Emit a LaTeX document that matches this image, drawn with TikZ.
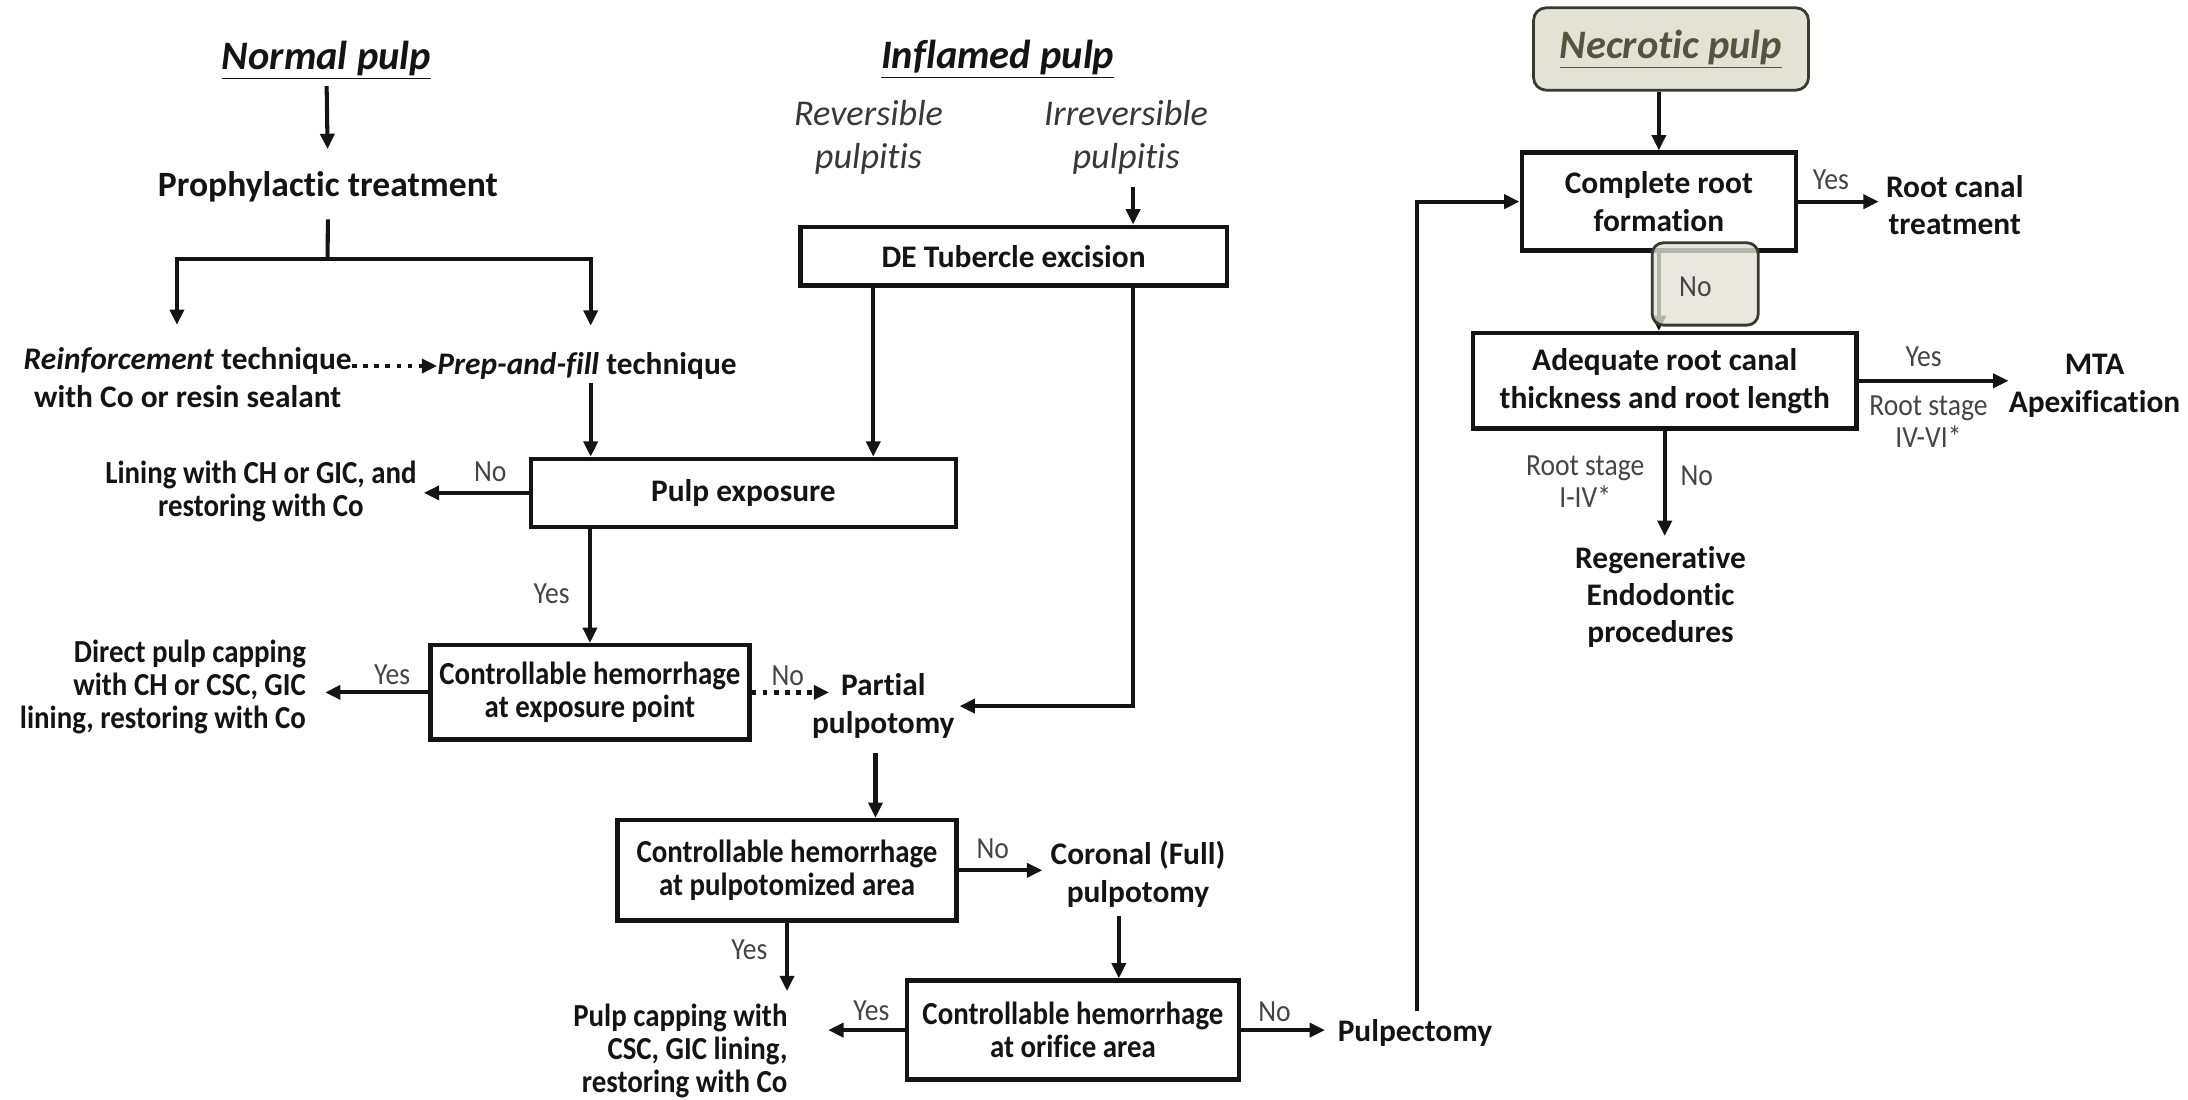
\documentclass[tikz,border=0pt]{standalone}
\usepackage{fontspec}
\setmainfont{Carlito}[Ligatures=NoCommon,RawFeature={-calt;-clig}]
\newfontfamily\condf[FakeStretch=0.9,Ligatures=NoCommon,RawFeature={-calt;-clig}]{Carlito}
\usetikzlibrary{arrows.meta,calc}
\definecolor{ink}{HTML}{141414}
\definecolor{lblgray}{HTML}{454545}
\definecolor{revgray}{HTML}{383838}
\definecolor{beige}{HTML}{E3E2D5}
\definecolor{olive}{HTML}{55553F}
\definecolor{boxedge}{HTML}{3A3A2E}
\newcommand{\myfs}[2]{\fontsize{#1}{#2}\selectfont}
\begin{document}
\begin{tikzpicture}[x=1pt,y=-1pt,
  every node/.style={inner sep=0pt, text=ink},
  fbox/.style 2 args={draw=ink, line width=3.2pt, minimum width=#1, minimum height=#2, align=center},
  bt/.style={font=\myfs{22.5}{27}\bfseries, align=center},
  ct/.style={font=\condf\myfs{23}{23.5}\bfseries, align=center},
  gl/.style={font=\condf\myfs{22}{23}, text=lblgray, align=center},
  head/.style={font=\myfs{29}{34}\bfseries\itshape},
  revt/.style={font=\myfs{26}{30.7}\itshape, text=revgray, align=center},
  arr/.style={draw=ink, line width=2.9pt, -{Triangle[length=11pt,width=10pt]}},
  dotarr/.style={arr, line width=3.4pt, dash pattern=on 3.4pt off 4.6pt}
]
\useasboundingbox (0,0) rectangle (1568,788);

% ---------- column: normal pulp ----------
\node[head] (normal) at (234,43) {\underline{Normal pulp}};
\node[bt, font=\myfs{25.5}{30}\bfseries] (proph) at (235,134) {Prophylactic treatment};
\node[bt] (reinf) at (134.5,270.5) {\textit{Reinforcement} technique\\with Co or resin sealant};
\node[bt] (prep) at (420.7,262.3) {\textit{Prep-and-fill} technique};
\node[ct] (lining) at (187,352) {Lining with CH or GIC, and\\restoring with Co};
\node[ct, align=right, anchor=east] (direct) at (219.4,492.3) {Direct pulp capping\\with CH or CSC, GIC\\lining, restoring with Co};
\node[bt] (partial) at (633,506) {Partial\\pulpotomy};
\node[bt] (coronal) at (815.5,626.4) {Coronal (Full)\\pulpotomy};
\node[ct, align=right, anchor=east] (pcap) at (564.5,753) {Pulp capping with\\CSC, GIC lining,\\restoring with Co};
\node[bt] (pulpectomy) at (1014,740.3) {Pulpectomy};

% ---------- column: inflamed pulp ----------
\node[head] (inflamed) at (715,42.2) {\underline{Inflamed pulp}};
\node[revt] (rev) at (622.4,98.5) {Reversible\\pulpitis};
\node[revt] (irrev) at (807,98.5) {Irreversible\\pulpitis};

% ---------- boxes ----------
\node[fbox={305.6pt}{42.2pt}, bt] (de) at (726.4,183.6) {DE Tubercle excision};
\node[fbox={304.5pt}{48.6pt}, bt] (pe) at (532.75,353.2) {Pulp exposure};
\node[fbox={228.5pt}{67.6pt}, ct] (ch1) at (422.75,496.2) {Controllable hemorrhage\\at exposure point};
\node[fbox={243pt}{72pt}, ct] (ch2) at (564,623.7) {Controllable hemorrhage\\at pulpotomized area};
\node[fbox={237.8pt}{70.9pt}, ct] (ch3) at (768.9,738.2) {Controllable hemorrhage\\at orifice area};
\node[fbox={196.5pt}{70.2pt}, bt] (crf) at (1188.8,144.5) {Complete root\\formation};
\node[fbox={275pt}{68.3pt}, bt] (arc) at (1193,272.9) {Adequate root canal\\thickness and root length};

% ---------- column: necrotic pulp ----------
\node[draw=boxedge, fill=beige, rounded corners=9pt, line width=2pt, minimum width=197pt, minimum height=59pt, head, text=olive] (necrotic) at (1197.5,35.1) {\underline{Necrotic pulp}};
\node[bt] (rct) at (1400.8,147) {Root canal\\treatment};
\node[bt] (mta) at (1501,276.6) {MTA\\Apexification};
\node[bt, font=\myfs{22.5}{26.5}\bfseries] (regen) at (1190,427.5) {Regenerative\\Endodontic\\procedures};
\node[gl] (rs1) at (1382,302.3) {Root stage\\IV-VI*};
\node[gl] (rs2) at (1136,345) {Root stage\\I-IV*};

% ---------- helper coordinates ----------
\coordinate (br) at (234.8,185.5);
\coordinate (bl) at (126.8,185.5);
\coordinate (brr) at (423.3,185.5);
\coordinate (xL) at (625.8,0);
\coordinate (xR) at (812,0);
\coordinate (xP) at (627.4,0);
\coordinate (xC) at (801.8,0);
\coordinate (xF) at (1015.7,0);

% ---------- connectors ----------
\draw[arr, shorten <=5pt, shorten >=16pt] (normal.south) -- (proph.north);
\draw[draw=ink, line width=2.9pt, shorten <=12pt] (proph.south) -- (br);
\draw[arr, shorten >=16pt] (br) -| (bl |- reinf.north);
\draw[arr, shorten >=19pt] (br) -| (brr |- prep.north);
\draw[dotarr] (reinf.east |- prep.west) -- (prep.west);
\draw[arr, shorten <=2pt] (brr |- prep.south) -- (brr |- pe.north);
\draw[arr, shorten >=5pt] (pe.west) -- (pe.west -| lining.east);
\draw[arr] (pe.south -| ch1.north) -- (ch1.north);
\draw[arr] (de.south -| xL) -- (pe.north -| xL);
\draw[arr, shorten <=9pt] (irrev.south -| xR) -- (de.north -| xR);
\draw[arr, shorten >=3.4pt] (de.south -| xR) |- (partial.east);
\draw[arr, shorten >=13.6pt] (ch1.west) -- (ch1.west -| direct.east);
\draw[dotarr, shorten >=-12.4pt] (ch1.east) -- (ch1.east -| partial.west);
\draw[arr, shorten <=10.5pt] (partial.south -| xP) -- (ch2.north -| xP);
\draw[arr, shorten >=5.8pt] (ch2.east) -- (ch2.east -| coronal.west);
\draw[arr, shorten >=9pt] (ch2.south) -- (ch2.south |- pcap.north);
\draw[arr, shorten <=6pt] (coronal.south -| xC) -- (ch3.north -| xC);
\draw[arr, shorten >=29pt] (ch3.west) -- (ch3.west -| pcap.east);
\draw[arr, shorten >=9pt] (ch3.east) -- (ch3.east -| pulpectomy.west);
\draw[arr, shorten <=6pt] (pulpectomy.north -| xF) |- (crf.west);
\draw[arr] (crf.north |- necrotic.south) -- (crf.north);
\draw[arr, shorten >=5pt] (crf.east) -- (crf.east -| rct.west);
\draw[arr] (crf.south) -- (crf.south |- arc.north);
\draw[arr] (arc.east) -- (arc.east -| mta.west);
\draw[arr, shorten >=7pt] (arc.south) -- (arc.south |- regen.north);

% highlighted "No"
\node[draw=boxedge, fill=beige, fill opacity=0.78, rounded corners=8pt, line width=2pt, minimum width=76pt, minimum height=59pt] (nobox) at (1222,203.5) {};

% ---------- labels ----------
\node[gl] (l1) at (351.4,337.8) {No};
\node[gl] (l2) at (395.4,425.3) {Yes};
\node[gl] (l3) at (281,483.6) {Yes};
\node[gl] (l4) at (564.5,484.1) {No};
\node[gl] (l5) at (711.5,608) {No};
\node[gl] (l6) at (537,680.8) {Yes};
\node[gl] (l7) at (624.5,724) {Yes};
\node[gl] (l8) at (913.4,725) {No};
\node[gl] (l9) at (1312,129) {Yes};
\node[gl] (l10) at (1215,205.7) {No};
\node[gl] (l11) at (1378.5,255.5) {Yes};
\node[gl] (l12) at (1216,341) {No};
\end{tikzpicture}
\end{document}
